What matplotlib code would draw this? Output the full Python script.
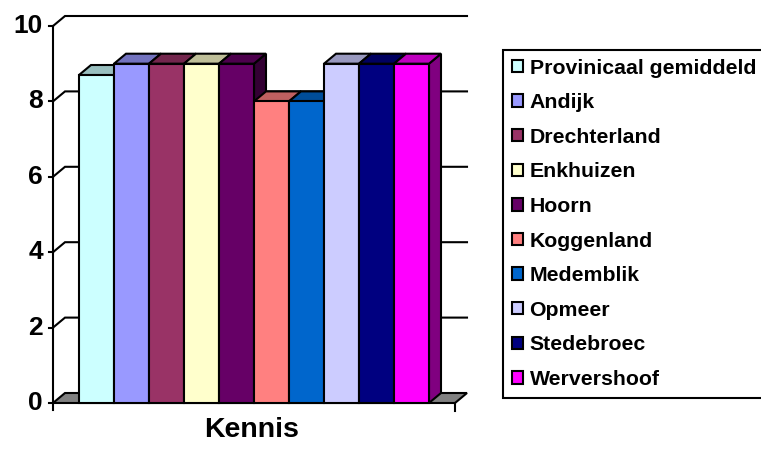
import matplotlib
matplotlib.use("Agg")
import matplotlib.pyplot as plt
from matplotlib.patches import Polygon, Rectangle, Patch
from matplotlib.colors import to_rgb

categories = ["Provinicaal gemiddeld", "Andijk", "Drechterland", "Enkhuizen", "Hoorn",
              "Koggenland", "Medemblik", "Opmeer", "Stedebroec", "Wervershoof"]
values = [8.7, 9, 9, 9, 9, 8, 8, 9, 9, 9]
colors = ["#CCFFFF", "#9999FF", "#993366", "#FFFFCC", "#660066",
          "#FF8080", "#0066CC", "#CCCCFF", "#000080", "#FF00FF"]
yticks = [0, 2, 4, 6, 8, 10]
group_label = "Kennis"

plt.rcParams["font.family"] = ["Liberation Sans", "DejaVu Sans"]
plt.rcParams["font.weight"] = "bold"

PX_X, PX_Y = 35.0, 37.7          # pixels per bar / per value unit
fig = plt.figure(figsize=(7.61, 4.5), dpi=100)
ax = fig.add_axes([0, 0, 1, 1])
ax.set_xlim(-79 / PX_X, (761 - 79) / PX_X)
ax.set_ylim(-47 / PX_Y, 403 / PX_Y)
ax.axis("off")

DX, DY = 12 / PX_X, 10 / PX_Y     # depth offset of the 3d look
x_lo, x_hi = -26 / PX_X, len(values) + 26 / PX_X
LW = 1.5


def shade(c, f):
    r, g, b = to_rgb(c)
    return (r * f, g * f, b * f)


# floor
ax.add_patch(Polygon([(x_lo, 0), (x_hi, 0), (x_hi + DX, DY), (x_lo + DX, DY)],
                     closed=True, fc="#808080", ec="black", lw=LW, zorder=1))

# back wall gridlines, ticks and labels
for t in yticks:
    if t > 0:
        ax.plot([x_lo, x_lo + DX, x_hi + DX], [t, t + DY, t + DY],
                color="black", lw=LW, zorder=1, solid_joinstyle="miter")
    ax.plot([x_lo - 4 / PX_X, x_lo], [t, t], color="black", lw=LW, zorder=2)
    ax.text(x_lo - 10 / PX_X, t, str(t), ha="right", va="center",
            fontsize=19, fontweight="bold")

# front value axis and category ticks
ax.plot([x_lo, x_lo], [-7 / PX_Y, yticks[-1]], color="black", lw=LW, zorder=2)
ax.plot([x_hi, x_hi], [-8 / PX_Y, 0], color="black", lw=LW, zorder=2)

# bars, left to right so each front face hides the previous side face
for i, (v, c) in enumerate(zip(values, colors)):
    z = 3 + i
    ax.add_patch(Polygon([(i + 1, 0), (i + 1 + DX, DY), (i + 1 + DX, v + DY), (i + 1, v)],
                         closed=True, fc=shade(c, 0.5), ec="black", lw=LW, zorder=z))
    ax.add_patch(Polygon([(i, v), (i + 1, v), (i + 1 + DX, v + DY), (i + DX, v + DY)],
                         closed=True, fc=shade(c, 0.75), ec="black", lw=LW, zorder=z))
    ax.add_patch(Rectangle((i, 0), 1, v, fc=c, ec="black", lw=LW, zorder=z + 0.5))

ax.text(len(values) / 2 - 0.08, -0.72, group_label, ha="center", va="center",
        fontsize=20.5, fontweight="bold")

handles = [Patch(fc=c, ec="black", lw=LW) for c in colors]
leg = ax.legend(handles, categories, loc="upper left",
                bbox_to_anchor=(503 / 761, 1 - 50 / 450), bbox_transform=fig.transFigure,
                frameon=True, fancybox=False, framealpha=1, edgecolor="black",
                prop={"size": 15.3, "weight": "bold"},
                handlelength=0.52, handleheight=0.52, handletextpad=0.33,
                labelspacing=0.735, borderpad=0.4, borderaxespad=0)
leg.get_frame().set_linewidth(LW)

fig.savefig("out.png", dpi=100)
